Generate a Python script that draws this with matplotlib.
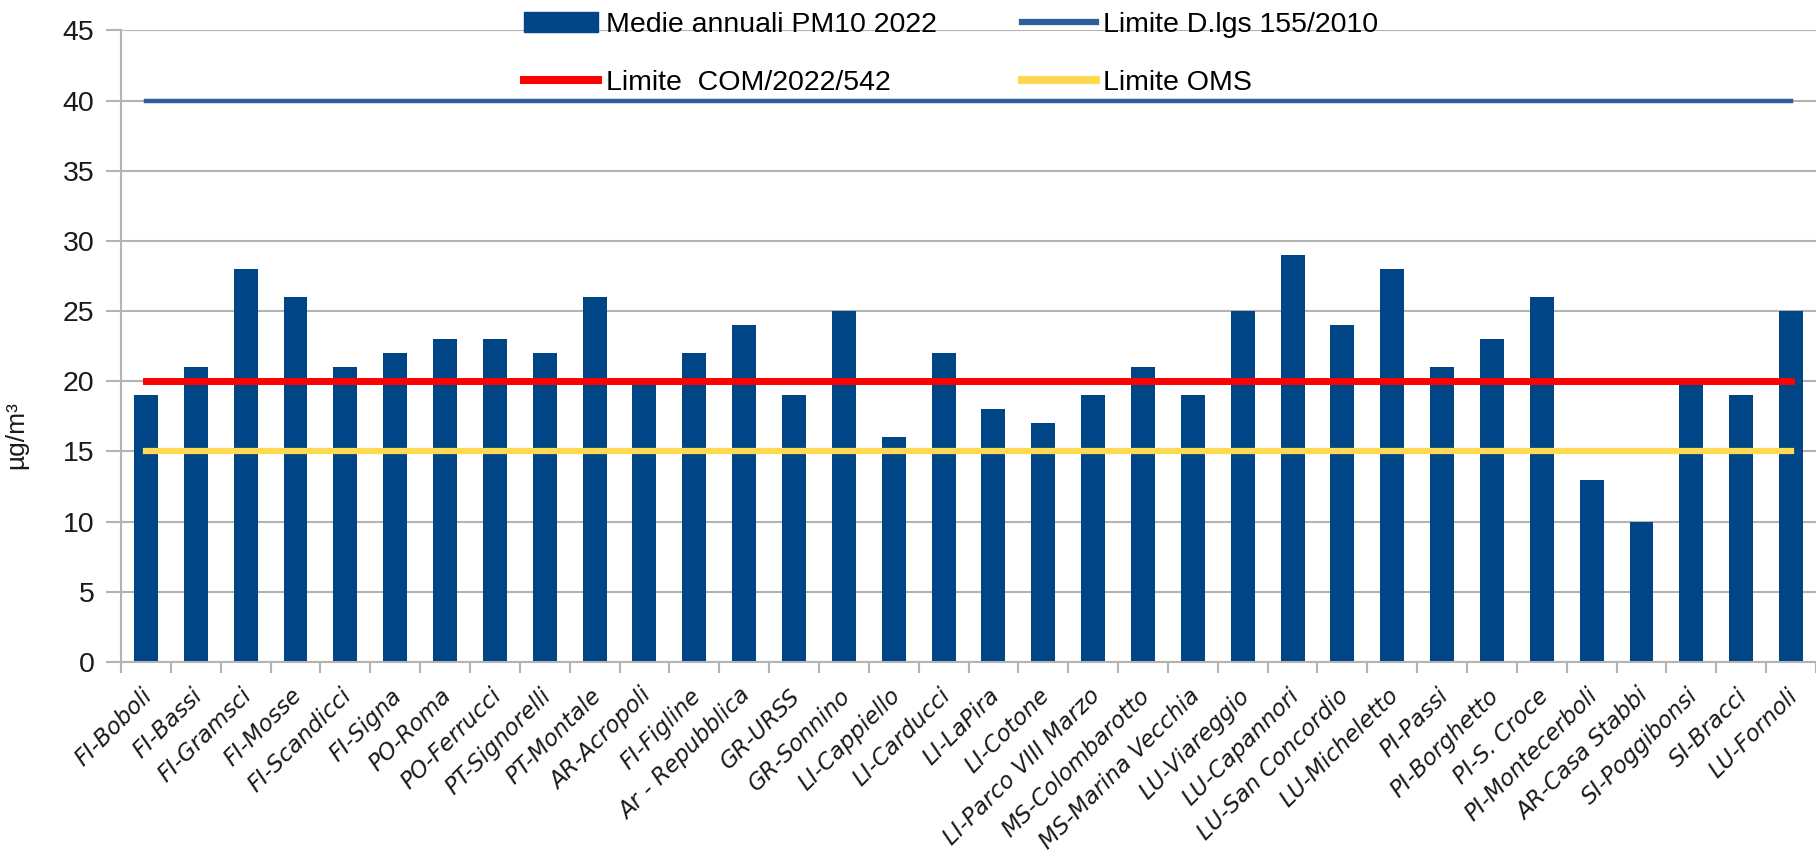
import numpy as np
import matplotlib
matplotlib.use("Agg")
import matplotlib.pyplot as plt
import matplotlib.transforms as mtransforms
from matplotlib.lines import Line2D
from matplotlib.patches import Patch

stations = [
    "FI-Boboli", "FI-Bassi", "FI-Gramsci", "FI-Mosse", "FI-Scandicci", "FI-Signa",
    "PO-Roma", "PO-Ferrucci", "PT-Signorelli", "PT-Montale", "AR-Acropoli",
    "FI-Figline", "Ar - Repubblica", "GR-URSS", "GR-Sonnino", "LI-Cappiello",
    "LI-Carducci", "LI-LaPira", "LI-Cotone", "LI-Parco VIII Marzo",
    "MS-Colombarotto", "MS-Marina Vecchia", "LU-Viareggio", "LU-Capannori",
    "LU-San Concordio", "LU-Micheletto", "PI-Passi", "PI-Borghetto",
    "PI-S. Croce", "PI-Montecerboli", "AR-Casa Stabbi", "SI-Poggibonsi",
    "SI-Bracci", "LU-Fornoli",
]
pm10_2022 = [19, 21, 28, 26, 21, 22, 23, 23, 22, 26, 20, 22, 24, 19, 25, 16, 22,
             18, 17, 19, 21, 19, 25, 29, 24, 28, 21, 23, 26, 13, 10, 20, 19, 25]
limit_dlgs = 40
limit_com = 20
limit_oms = 15

yticks = [0, 5, 10, 15, 20, 25, 30, 35, 40, 45]

plt.rcParams['font.family'] = ['Liberation Sans', 'DejaVu Sans']

BAR = '#004586'
BLUE = '#2a6099'
RED = '#ff0000'
YELLOW = '#ffd950'
GRID = '#b3b3b3'

fig = plt.figure(figsize=(18.16, 8.57), dpi=100)
ax = fig.add_axes([121 / 1816, 1 - 662 / 857, 1 - 121 / 1816, (662 - 30.5) / 857])

x = np.arange(len(stations))
ax.bar(x, pm10_2022, width=0.48, color=BAR, zorder=2)

ax.plot([x[0], x[-1]], [limit_dlgs] * 2, color=BLUE, linewidth=3.2, zorder=3)
ax.plot([x[0], x[-1]], [limit_com] * 2, color=RED, linewidth=5, zorder=3)
ax.plot([x[0], x[-1]], [limit_oms] * 2, color=YELLOW, linewidth=4.5, zorder=3)

# plot area is cropped on the right, just past the last bar
ax.set_xlim(-0.5, 33.42)
ax.set_ylim(0, 45)
ax.set_yticks(yticks)
ax.tick_params(axis='y', labelsize=20.5, length=11, color=GRID, width=1.5, pad=8,
               labelcolor='#1a1a1a')
ax.yaxis.grid(True, color=GRID, linewidth=1.5, zorder=0)
ax.set_axisbelow(True)

ax.set_xticks(x)
ax.set_xticklabels(stations)
ax.tick_params(axis='x', which='major', length=0, pad=16)
ax.set_xticks(np.arange(-0.5, len(stations)), minor=True)
ax.tick_params(axis='x', which='minor', length=8, color=GRID, width=1.5)

shift = mtransforms.ScaledTranslation(-5 / 100, 0, fig.dpi_scale_trans)
for lbl in ax.get_xticklabels():
    lbl.set_rotation(45)
    lbl.set_rotation_mode('anchor')
    lbl.set_horizontalalignment('right')
    lbl.set_verticalalignment('top')
    lbl.set_fontsize(16.5)
    lbl.set_fontstyle('italic')
    lbl.set_family('DejaVu Sans')
    lbl.set_color('#1a1a1a')
    lbl.set_transform(lbl.get_transform() + shift)

for side in ['top', 'right']:
    ax.spines[side].set_visible(False)
for side in ['left', 'bottom']:
    ax.spines[side].set_color(GRID)
    ax.spines[side].set_linewidth(1.5)

fig.text(16 / 1816, 1 - 435 / 857, 'µg/m³', rotation=90, fontsize=19,
         ha='center', va='center', color='#1a1a1a')

handles = [
    Patch(color=BAR),
    Line2D([], [], color=BLUE, linewidth=4.5),
    Line2D([], [], color=RED, linewidth=5.8),
    Line2D([], [], color=YELLOW, linewidth=5.8),
]
labels = ["Medie annuali PM10 2022", "Limite D.lgs 155/2010",
          "Limite  COM/2022/542", "Limite OMS"]
# column-major order so the rows read: Medie / D.lgs, COM / OMS
order = [0, 2, 1, 3]
fig.legend([handles[i] for i in order], [labels[i] for i in order], ncol=2,
           loc='center left', bbox_to_anchor=(513 / 1816, 1 - 54 / 857), frameon=False,
           fontsize=20.5, handlelength=2.6, handletextpad=0.25, columnspacing=3.0,
           labelspacing=1.1, borderaxespad=0)

fig.savefig('out.png', dpi=100)
